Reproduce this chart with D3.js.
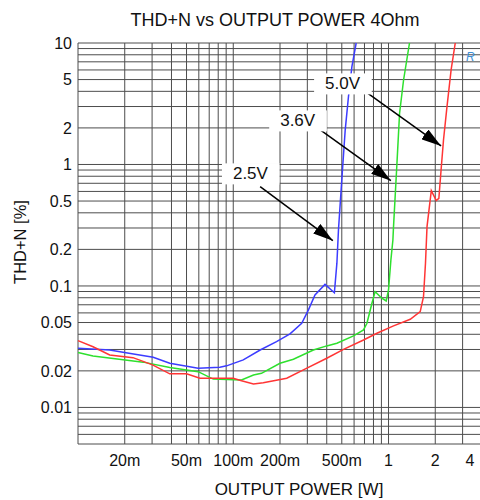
<!DOCTYPE html>
<html>
<head>
<meta charset="utf-8">
<script src="https://cdn.jsdelivr.net/npm/d3@7"></script>
<style>
  body { margin: 0; background: #fff; }
  svg { display: block; font-family: Arial, "Liberation Sans", sans-serif; }
  .grid line { stroke: #4d4d4d; stroke-width: 1; }
  .tick-label { font-size: 16px; fill: #111; }
  .axis-title { font-size: 17px; fill: #111; }
  .curve { fill: none; stroke-width: 1.5; }
  .note-text { font-size: 17px; fill: #111; }
</style>
</head>
<body>
<svg id="chart"></svg>
<script>
// tick labels
const xTickValues = [0.02, 0.05, 0.1, 0.2, 0.5, 1, 2, 4];
const xTickLabels = ["20m", "50m", "100m", "200m", "500m", "1", "2", "4"];
const yTickValues = [10, 5, 2, 1, 0.5, 0.2, 0.1, 0.05, 0.02, 0.01];
const yTickLabels = ["10", "5", "2", "1", "0.5", "0.2", "0.1", "0.05", "0.02", "0.01"];

// 2.5V (blue)
const power25 = [0.01, 0.016, 0.0213, 0.0305, 0.039, 0.0594, 0.082, 0.0906, 0.116, 0.149, 0.19, 0.232,
  0.276, 0.305, 0.336, 0.39, 0.448, 0.465, 0.476, 0.5, 0.526, 0.552, 0.581, 0.619];
const thd25 = [0.0307, 0.0297, 0.0279, 0.0259, 0.0231, 0.021, 0.0214, 0.022, 0.0246, 0.0297, 0.0348, 0.0403,
  0.0493, 0.0635, 0.0843, 0.103, 0.088, 0.154, 0.289, 0.745, 1.92, 3.61, 6.38, 10];

// 3.6V (green)
const power36 = [0.01, 0.0125, 0.0263, 0.039, 0.0594, 0.0743, 0.113, 0.135, 0.152, 0.2, 0.244, 0.328, 0.4,
  0.465, 0.595, 0.69, 0.726, 0.782, 0.82, 0.906, 0.966, 1.0, 1.036, 1.067, 1.077, 1.133, 1.178, 1.25, 1.365];
const thd36 = [0.0283, 0.0265, 0.0236, 0.0213, 0.0197, 0.0171, 0.0168, 0.0185, 0.0191, 0.0231, 0.0249, 0.0297, 0.0321,
  0.0338, 0.0388, 0.0435, 0.0493, 0.0721, 0.0898, 0.0792, 0.0752, 0.0927, 0.164, 0.239, 0.308, 1.02, 2.64, 4.96, 10];

// 5.0V (red)
const power50 = [0.01, 0.0125, 0.016, 0.0226, 0.0302, 0.039, 0.05, 0.061, 0.1, 0.113, 0.135, 0.156, 0.221, 0.283,
  0.4, 0.513, 0.69, 0.842, 1.077, 1.38, 1.6, 1.68, 1.73, 1.77, 1.886, 2.03, 2.11, 2.18, 2.26, 2.38, 2.53, 2.69];
const thd50 = [0.0355, 0.0316, 0.027, 0.0257, 0.0224, 0.0189, 0.0189, 0.0174, 0.0174, 0.0166, 0.0156, 0.016, 0.0174, 0.0204,
  0.0254, 0.0301, 0.0359, 0.0408, 0.0469, 0.0532, 0.0614, 0.0816, 0.154, 0.308, 0.609, 0.504, 0.527, 0.9, 1.59, 2.99, 6.0, 10];

// annotations (label position, arrow start, arrow tip) in data units
const noteLabels = ["5.0V", "3.6V", "2.5V"];
const notePower = [0.506, 0.26, 0.129];
const noteThd = [4.66, 2.31, 0.847];
const arrowFromPower = [0.7255, 0.345, 0.149];
const arrowFromThd = [3.9, 2.02, 0.657];
const arrowToPower = [2.18, 1.036, 0.438];
const arrowToThd = [1.42, 0.736, 0.236];

class ThdPlot {
  constructor(_config) {
    this.config = {
      parentElement: _config.parentElement,
      containerWidth: _config.containerWidth || 480,
      containerHeight: _config.containerHeight || 500,
      margin: _config.margin || { top: 43, right: -2, bottom: 56, left: 78 },
    };
    this.series = [
      { power: power25, thd: thd25, color: "#3c3cff" },
      { power: power36, thd: thd36, color: "#2ee02e" },
      { power: power50, thd: thd50, color: "#ff3535" },
    ];
    this.initVis();
  }

  initVis() {
    let vis = this;

    vis.width = vis.config.containerWidth - vis.config.margin.left - vis.config.margin.right;
    vis.height = vis.config.containerHeight - vis.config.margin.top - vis.config.margin.bottom;

    vis.xScale = d3.scaleLog().domain([0.01, 4]).range([0, vis.width]);
    vis.yScale = d3.scaleLog().domain([0.005, 10]).range([vis.height, 0]);

    vis.svg = d3
      .select(vis.config.parentElement)
      .attr("width", vis.config.containerWidth)
      .attr("height", vis.config.containerHeight);

    vis.chart = vis.svg
      .append("g")
      .attr("transform", `translate(${vis.config.margin.left},${vis.config.margin.top})`);

    vis.svg
      .append("text")
      .attr("class", "axis-title")
      .attr("x", 275)
      .attr("y", 26)
      .style("font-size", "18px")
      .style("text-anchor", "middle")
      .text("THD+N vs OUTPUT POWER 4Ohm");

    vis.svg
      .append("text")
      .attr("class", "axis-title")
      .attr("x", 299)
      .attr("y", 495)
      .style("text-anchor", "middle")
      .text("OUTPUT POWER [W]");

    vis.svg
      .append("text")
      .attr("class", "axis-title")
      .attr("transform", "translate(26,242) rotate(-90)")
      .style("font-size", "16.5px")
      .style("text-anchor", "middle")
      .text("THD+N [%]");

    // little blue logo mark at the top right
    vis.svg
      .append("text")
      .attr("x", 466)
      .attr("y", 61)
      .style("font-size", "12px")
      .style("font-style", "italic")
      .style("fill", "#3d8fd6")
      .text("R");

    vis.defs = vis.svg.append("defs");
    vis.defs
      .append("marker")
      .attr("id", "arrowhead")
      .attr("markerUnits", "userSpaceOnUse")
      .attr("markerWidth", 20)
      .attr("markerHeight", 12)
      .attr("refX", 20)
      .attr("refY", 6)
      .attr("orient", "auto")
      .append("path")
      .attr("d", "M0,0 L20,6 L0,12 Z")
      .attr("fill", "#000");

    vis.renderVis();
  }

  renderVis() {
    let vis = this;

    const grid = vis.chart.append("g").attr("class", "grid");

    grid
      .selectAll(".vline")
      .data(vis.xScale.ticks())
      .join("line")
      .attr("class", "vline")
      .attr("x1", (d) => vis.xScale(d))
      .attr("x2", (d) => vis.xScale(d))
      .attr("y1", 0)
      .attr("y2", vis.height);

    grid
      .selectAll(".hline")
      .data(vis.yScale.ticks())
      .join("line")
      .attr("class", "hline")
      .attr("x1", 0)
      .attr("x2", vis.width)
      .attr("y1", (d) => vis.yScale(d))
      .attr("y2", (d) => vis.yScale(d));

    vis.chart
      .selectAll(".x-label")
      .data(xTickValues)
      .join("text")
      .attr("class", "tick-label x-label")
      .attr("x", (d) => Math.min(vis.xScale(d), vis.width - 12))
      .attr("y", vis.height + 22)
      .style("text-anchor", "middle")
      .text((d, i) => xTickLabels[i]);

    vis.chart
      .selectAll(".y-label")
      .data(yTickValues)
      .join("text")
      .attr("class", "tick-label y-label")
      .attr("x", -6)
      .attr("y", (d) => vis.yScale(d))
      .attr("dy", "0.36em")
      .style("text-anchor", "end")
      .text((d, i) => yTickLabels[i]);

    const line = d3
      .line()
      .x((d) => vis.xScale(d[0]))
      .y((d) => vis.yScale(d[1]));

    vis.chart
      .selectAll(".curve")
      .data(vis.series)
      .join("path")
      .attr("class", "curve")
      .attr("stroke", (d) => d.color)
      .attr("d", (d) => line(d.power.map((p, i) => [p, d.thd[i]])));

    noteLabels.forEach((label, i) => {
      vis.chart
        .append("line")
        .attr("x1", vis.xScale(arrowFromPower[i]))
        .attr("y1", vis.yScale(arrowFromThd[i]))
        .attr("x2", vis.xScale(arrowToPower[i]))
        .attr("y2", vis.yScale(arrowToThd[i]))
        .attr("stroke", "#000")
        .attr("stroke-width", 1.5)
        .attr("marker-end", "url(#arrowhead)");

      const g = vis.chart.append("g");
      const rect = g.append("rect").attr("fill", "#fff");
      const txt = g
        .append("text")
        .attr("class", "note-text")
        .attr("x", vis.xScale(notePower[i]))
        .attr("y", vis.yScale(noteThd[i]))
        .attr("dy", "0.36em")
        .style("text-anchor", "middle")
        .text(label);
      const bb = txt.node().getBBox();
      rect
        .attr("x", bb.x - 11)
        .attr("y", bb.y - 1)
        .attr("width", bb.width + 22)
        .attr("height", bb.height + 2);
    });
  }
}

new ThdPlot({ parentElement: "#chart" });
</script>
</body>
</html>
